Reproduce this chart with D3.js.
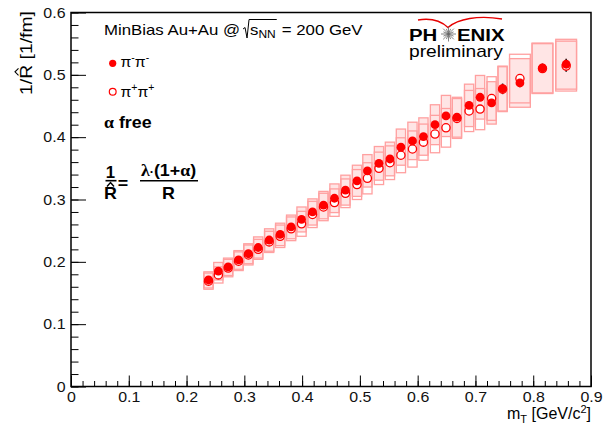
<!DOCTYPE html>
<html>
<head>
<meta charset="utf-8">
<script src="https://cdn.jsdelivr.net/npm/d3@7"></script>
<style>
  body { margin: 0; background: #fff; }
  svg text { font-family: "Liberation Sans", Arial, sans-serif; }
</style>
</head>
<body>
<svg id="chart" width="606" height="424"></svg>
<script>
// mT bin centres [GeV/c^2]
var mT = [0.238, 0.255, 0.272, 0.290, 0.307, 0.324, 0.343, 0.362, 0.381, 0.399,
          0.418, 0.437, 0.456, 0.475, 0.495, 0.513, 0.533, 0.552, 0.571, 0.591,
          0.610, 0.630, 0.649, 0.668, 0.689, 0.708, 0.728, 0.747, 0.777, 0.816, 0.857];
// half width of the systematic boxes
var boxHalf = [0.008, 0.008, 0.008, 0.008, 0.008, 0.008, 0.008, 0.008, 0.008, 0.008,
               0.008, 0.008, 0.008, 0.008, 0.008, 0.008, 0.008, 0.008, 0.008, 0.008,
               0.008, 0.008, 0.008, 0.008, 0.008, 0.008, 0.008, 0.008, 0.018, 0.018, 0.018];

// pi- pi- (filled)
var piMinus = [0.171, 0.185, 0.192, 0.203, 0.213, 0.223, 0.235, 0.244, 0.256, 0.268,
               0.280, 0.291, 0.302, 0.315, 0.330, 0.346, 0.358, 0.365, 0.384, 0.394,
               0.401, 0.420, 0.434, 0.432, 0.451, 0.464, 0.455, 0.478, 0.487, 0.511, 0.517];
var statMinus = [0.003, 0.003, 0.003, 0.003, 0.003, 0.003, 0.003, 0.003, 0.003, 0.003,
                 0.003, 0.003, 0.003, 0.004, 0.004, 0.004, 0.004, 0.004, 0.004, 0.005,
                 0.005, 0.005, 0.005, 0.005, 0.006, 0.006, 0.006, 0.008, 0.007, 0.007, 0.009];
var sysMinus = [0.013, 0.014, 0.014, 0.015, 0.016, 0.017, 0.018, 0.018, 0.019, 0.020,
                0.021, 0.022, 0.023, 0.024, 0.025, 0.026, 0.027, 0.027, 0.029, 0.030,
                0.030, 0.032, 0.033, 0.032, 0.034, 0.035, 0.034, 0.036, 0.039, 0.040, 0.040];

// pi+ pi+ (open)
var piPlus = [0.169, 0.179, 0.190, 0.201, 0.211, 0.220, 0.232, 0.241, 0.253, 0.261,
              0.276, 0.288, 0.295, 0.310, 0.324, 0.334, 0.350, 0.359, 0.371, 0.381,
              0.392, 0.405, 0.415, 0.430, 0.442, 0.445, 0.462, 0.477, 0.494, 0.510, 0.514];
var statPlus = [0.003, 0.003, 0.003, 0.003, 0.003, 0.003, 0.003, 0.003, 0.003, 0.003,
                0.003, 0.003, 0.003, 0.004, 0.004, 0.004, 0.004, 0.004, 0.004, 0.005,
                0.005, 0.005, 0.005, 0.005, 0.006, 0.006, 0.006, 0.008, 0.007, 0.007, 0.009];
var sysPlus = [0.013, 0.013, 0.014, 0.015, 0.016, 0.016, 0.017, 0.018, 0.019, 0.020,
               0.021, 0.022, 0.022, 0.023, 0.024, 0.025, 0.026, 0.027, 0.028, 0.029,
               0.029, 0.030, 0.031, 0.032, 0.033, 0.033, 0.035, 0.036, 0.039, 0.040, 0.040];

var xTicks = [0, 0.1, 0.2, 0.3, 0.4, 0.5, 0.6, 0.7, 0.8, 0.9];
var yTicks = [0, 0.1, 0.2, 0.3, 0.4, 0.5, 0.6];

var SX = 1.2; // text in the picture is a bit wide

var svg = d3.select("#chart");

// frame
var fLeft = 71, fRight = 591, fTop = 12.5, fBottom = 386.5;

var x = d3.scaleLinear().domain([0, 0.9]).range([fLeft, fRight]);
var y = d3.scaleLinear().domain([0, 0.6]).range([fBottom, fTop]);

var fmt = function(d) { return d === 0 ? "0" : d3.format(".1f")(d); };

// minor ticks
var gxm = svg.append("g").attr("transform", "translate(0," + fBottom + ")")
    .call(d3.axisBottom(x).tickValues(d3.range(0, 0.9001, 0.02)).tickSize(-5.5).tickFormat(""));
gxm.select(".domain").remove();
var gym = svg.append("g").attr("transform", "translate(" + fLeft + ",0)")
    .call(d3.axisLeft(y).tickValues(d3.range(0, 0.6001, 0.02)).tickSize(-7.5).tickFormat(""));
gym.select(".domain").remove();

// major ticks + labels
var gx = svg.append("g").attr("transform", "translate(0," + fBottom + ")")
    .call(d3.axisBottom(x).tickValues(xTicks).tickSize(-11).tickPadding(5).tickFormat(fmt));
var gy = svg.append("g").attr("transform", "translate(" + fLeft + ",0)")
    .call(d3.axisLeft(y).tickValues(yTicks).tickSize(-15).tickPadding(5).tickFormat(fmt));
[gx, gy].forEach(function(g) {
  g.select(".domain").remove();
  g.selectAll("text").attr("font-size", 14.5).attr("fill", "#111")
    .attr("font-family", "Liberation Sans, Arial, sans-serif")
    .attr("transform", "scale(1.1,1)");
});
svg.selectAll(".tick line").attr("stroke", "#000");

svg.append("rect")
    .attr("x", fLeft).attr("y", fTop)
    .attr("width", fRight - fLeft).attr("height", fBottom - fTop)
    .attr("fill", "none").attr("stroke", "#000").attr("stroke-width", 1.5);

// systematic boxes
function boxes(vals, sys, fill) {
  svg.append("g").selectAll("rect")
    .data(vals)
    .enter().append("rect")
    .attr("x", function(d, i) { return x(mT[i] - boxHalf[i]); })
    .attr("width", function(d, i) { return x(mT[i] + boxHalf[i]) - x(mT[i] - boxHalf[i]); })
    .attr("y", function(d, i) { return y(d + sys[i]); })
    .attr("height", function(d, i) { return y(d - sys[i]) - y(d + sys[i]); })
    .attr("fill", fill)
    .attr("stroke", "#ffa0a0")
    .attr("stroke-width", 1.3);
}
boxes(piMinus, sysMinus, "rgba(255,0,0,0.1)");
boxes(piPlus, sysPlus, "none");

// stat errors
function bars(vals, err) {
  svg.append("g").selectAll("line")
    .data(vals)
    .enter().append("line")
    .attr("x1", function(d, i) { return x(mT[i]); })
    .attr("x2", function(d, i) { return x(mT[i]); })
    .attr("y1", function(d, i) { return y(d - err[i]); })
    .attr("y2", function(d, i) { return y(d + err[i]); })
    .attr("stroke", "#000").attr("stroke-width", 1.5);
}
bars(piPlus, statPlus);
bars(piMinus, statMinus);

// markers: open first, filled on top
svg.append("g").selectAll("circle")
  .data(piPlus)
  .enter().append("circle")
  .attr("cx", function(d, i) { return x(mT[i]); })
  .attr("cy", function(d) { return y(d); })
  .attr("r", 4.1)
  .attr("fill", "#fff")
  .attr("stroke", "#ff0000")
  .attr("stroke-width", 1.3);

svg.append("g").selectAll("circle")
  .data(piMinus)
  .enter().append("circle")
  .attr("cx", function(d, i) { return x(mT[i]); })
  .attr("cy", function(d) { return y(d); })
  .attr("r", 4.4)
  .attr("fill", "#ff0000");

// text helper, stretched horizontally
function label(x0, y0, parts, size, o) {
  o = o || {};
  var g = svg.append("g").attr("transform", "translate(" + x0 + "," + y0 + ") scale(" + (o.sx || SX) + ",1)");
  var t = g.append("text").attr("font-size", size)
      .attr("text-anchor", o.anchor || "start")
      .attr("font-weight", o.weight || "normal")
      .attr("fill", "#000");
  if (o.family) t.attr("font-family", o.family);
  if (typeof parts === "string") t.text(parts);
  else parts.forEach(function(p) {
    var ts = t.append("tspan").text(p.t);
    if (p.size) ts.attr("font-size", p.size);
    if (p.dy) ts.attr("dy", p.dy);
    if (p.family) ts.attr("font-family", p.family);
  });
  t.width = t.node().getComputedTextLength() * (o.sx || SX);
  return t;
}

// header with sqrt(s_NN)
var t1 = label(104, 35, "MinBias Au+Au @", 14);
var r0 = 104 + t1.width + 3;
var t2 = label(r0 + 7, 35, [{t: "s"}, {t: "NN", size: 10, dy: 3}], 14);
var rEnd = r0 + 7 + t2.width + 1;
svg.append("path")
  .attr("d", "M" + r0 + ",29 L" + (r0 + 2) + ",27.5 L" + (r0 + 4) + ",38 L" + (r0 + 6) + ",19.5 L" + rEnd + ",19.5")
  .attr("fill", "none").attr("stroke", "#000").attr("stroke-width", 1);
label(rEnd + 5, 35, "= 200 GeV", 14);

// legend
svg.append("circle").attr("cx", 112.7).attr("cy", 63.3).attr("r", 3.6).attr("fill", "#ff0000");
svg.append("circle").attr("cx", 112.7).attr("cy", 91.7).attr("r", 3.4)
  .attr("fill", "none").attr("stroke", "#ff0000").attr("stroke-width", 1.2);
var serif = "Liberation Serif, Times New Roman, serif";
label(120.5, 67.3, [{t: "\u03c0"}, {t: "-", size: 10, dy: -6}, {t: "\u03c0", size: 15, dy: 6}, {t: "-", size: 10, dy: -6}], 15, {family: serif, sx: 1.05});
label(120.5, 97.3, [{t: "\u03c0"}, {t: "+", size: 10, dy: -6}, {t: "\u03c0", size: 15, dy: 6}, {t: "+", size: 10, dy: -6}], 15, {family: serif, sx: 1.05});

label(104, 128, [{t: "\u03b1", family: serif}, {t: " free"}], 17, {weight: "bold", sx: 1.05});

// formula 1/R^ = lambda(1+alpha)/R
label(110.5, 178, "1", 16, {weight: "bold", anchor: "middle", sx: 1.05});
svg.append("line").attr("x1", 105.5).attr("x2", 116.5).attr("y1", 180.7).attr("y2", 180.7)
  .attr("stroke", "#000").attr("stroke-width", 1.6);
label(110.5, 199.3, "R", 17, {weight: "bold", anchor: "middle", sx: 1.05});
svg.append("path").attr("d", "M107,186.5 L110.5,182.5 L114,186.5")
  .attr("fill", "none").attr("stroke", "#000").attr("stroke-width", 1.4);
label(123, 189, "=", 17, {weight: "bold", anchor: "middle", sx: 1.05});
label(168.5, 176, [{t: "\u03bb", family: serif}, {t: "\u00b7", size: 12}, {t: "(1+", size: 17}, {t: "\u03b1", family: serif}, {t: ")"}], 17, {weight: "bold", anchor: "middle", sx: 1.05});
svg.append("line").attr("x1", 140).attr("x2", 198).attr("y1", 180.7).attr("y2", 180.7)
  .attr("stroke", "#000").attr("stroke-width", 1.6);
label(168.5, 199.3, "R", 17, {weight: "bold", anchor: "middle", sx: 1.05});

// PHENIX logo
svg.append("path")
  .attr("d", "M418,20 C430,18 441,21 448,27.5 C458,19 478,15 502,19")
  .attr("fill", "none").attr("stroke", "#e60000").attr("stroke-width", 1.4);
label(409, 40.7, "PH", 17, {weight: "bold"});
label(457, 40.7, "ENIX", 17, {weight: "bold"});
var star = svg.append("g").attr("transform", "translate(448.5,34)");
d3.range(16).forEach(function(k) {
  var a = k * Math.PI / 8, r = (k % 2 === 0) ? 7.5 : 5.5;
  star.append("line").attr("x1", 0).attr("y1", 0)
    .attr("x2", r * Math.cos(a)).attr("y2", r * Math.sin(a))
    .attr("stroke", "#666").attr("stroke-width", 0.8);
});
label(409, 56.7, "preliminary", 16);

// axis titles
label(591, 419, [{t: "m"}, {t: "T", size: 11, dy: 4}, {t: " [GeV/c", size: 16, dy: -4}, {t: "2", size: 11, dy: -6}, {t: "]", size: 16, dy: 6}], 16, {anchor: "end", sx: 1.0});

var gyt = svg.append("g").attr("transform", "translate(32,95) rotate(-90)");
var yt = gyt.append("text").attr("font-size", 16).attr("textLength", 84)
  .attr("lengthAdjust", "spacingAndGlyphs").text("1/R [1/fm]");
var rs = yt.node().getStartPositionOfChar(2).x, re = yt.node().getEndPositionOfChar(2).x;
var rm = (rs + re) / 2;
gyt.append("path").attr("d", "M" + (rm - 3.5) + ",-13.5 L" + rm + ",-17 L" + (rm + 3.5) + ",-13.5")
  .attr("fill", "none").attr("stroke", "#000").attr("stroke-width", 1.1);
</script>
</body>
</html>
